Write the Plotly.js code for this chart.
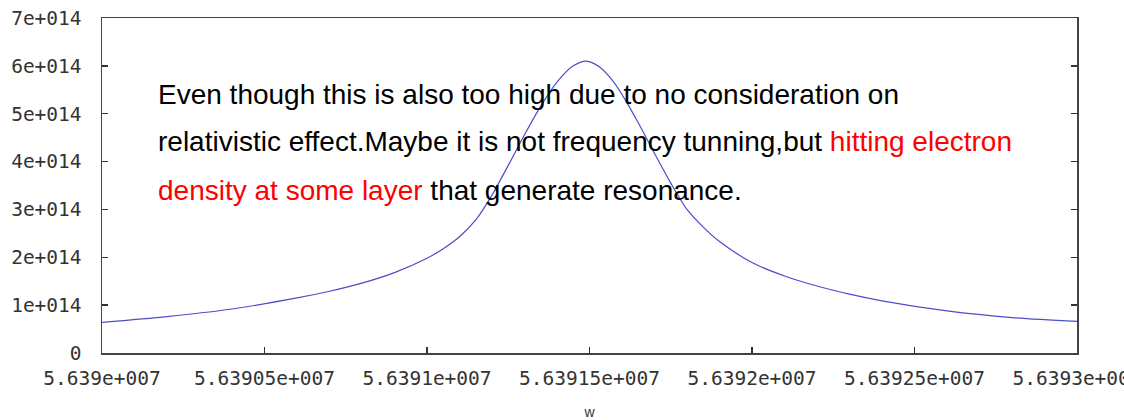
<!DOCTYPE html>
<html>
<head>
<meta charset="utf-8">
<script src="https://cdn.plot.ly/plotly-3.0.1.min.js"></script>
<style>html,body{margin:0;padding:0;background:#fff;}#chart{width:1124px;height:420px;}</style>
</head>
<body>
<div id="chart"></div>
<script>
// Frequency w (x) and response (y)
var wValues = [56390000, 56390200, 56390400, 56390600, 56390700, 56390800, 56390900, 56391000, 56391050, 56391100, 56391150, 56391200, 56391250, 56391300, 56391350, 56391400, 56391450, 56391490, 56391530, 56391570, 56391610, 56391650, 56391700, 56391750, 56391800, 56391850, 56391900, 56392000, 56392100, 56392200, 56392300, 56392400, 56392600, 56392800, 56393000];
var respValues = [0.64e14, 0.76e14, 0.92e14, 1.15e14, 1.29e14, 1.46e14, 1.68e14, 1.98e14, 2.18e14, 2.43e14, 2.78e14, 3.30e14, 3.92e14, 4.56e14, 5.16e14, 5.66e14, 6.00e14, 6.10e14, 5.98e14, 5.70e14, 5.29e14, 4.81e14, 4.17e14, 3.55e14, 3.00e14, 2.63e14, 2.33e14, 1.89e14, 1.61e14, 1.40e14, 1.23e14, 1.09e14, 0.88e14, 0.74e14, 0.66e14];

var xTickVals = [56390000, 56390500, 56391000, 56391500, 56392000, 56392500, 56393000];
var xTickText = ['5.639e+007', '5.63905e+007', '5.6391e+007', '5.63915e+007', '5.6392e+007', '5.63925e+007', '5.6393e+007'];
var yTickVals = [0, 1e14, 2e14, 3e14, 4e14, 5e14, 6e14, 7e14];
var yTickText = ['0', '1e+014', '2e+014', '3e+014', '4e+014', '5e+014', '6e+014', '7e+014'];

var noteLines = [
  'Even though this is also too high due to no consideration on',
  'relativistic effect.Maybe it is not frequency tunning,but <span style="color:#ff0000">hitting electron</span>',
  '<span style="color:#ff0000">density at some layer</span> that generate resonance.'
];
var noteY = [0.772, 0.630, 0.486];

var tickFont = {family: 'DejaVu Sans Mono, monospace', size: 19.5, color: '#333333'};

var annotations = noteLines.map(function (t, i) {
  return {
    text: t, xref: 'paper', yref: 'paper', x: 0.0555, y: noteY[i],
    xanchor: 'left', yanchor: 'middle', showarrow: false,
    font: {family: 'Liberation Sans, Arial, sans-serif', size: 28, color: '#000000'}
  };
});

var trace = {
  x: wValues, y: respValues, type: 'scatter', mode: 'lines',
  line: {color: '#4d4dc8', width: 1.2, shape: 'spline', smoothing: 0.8},
  hoverinfo: 'skip'
};

var layout = {
  width: 1124, height: 420,
  margin: {l: 102, r: 47, t: 18, b: 67, pad: 0},
  paper_bgcolor: '#ffffff', plot_bgcolor: '#ffffff',
  showlegend: false,
  xaxis: {
    range: [56390000, 56393000], tickmode: 'array', tickvals: xTickVals, ticktext: xTickText,
    ticks: 'inside', ticklen: 6, tickwidth: 1.5, tickcolor: '#333333',
    showline: true, linecolor: '#444444', linewidth: 1.5, mirror: true,
    showgrid: false, zeroline: false, tickfont: tickFont, ticklabeloverflow: 'allow',
    ticklabelstandoff: 7,
    title: {text: 'w', font: {family: 'Liberation Sans, Arial, sans-serif', size: 14, color: '#333333'}, standoff: 20}
  },
  yaxis: {
    range: [0, 7e14], tickmode: 'array', tickvals: yTickVals, ticktext: yTickText,
    ticks: 'inside', ticklen: 6, tickwidth: 1.5, tickcolor: '#333333',
    showline: true, linecolor: '#444444', linewidth: 1.5, mirror: 'ticks',
    showgrid: false, zeroline: false, tickfont: tickFont, ticklabelstandoff: 15
  },
  annotations: annotations
};

Plotly.newPlot('chart', [trace], layout, {displayModeBar: false, staticPlot: true});
</script>
</body>
</html>
